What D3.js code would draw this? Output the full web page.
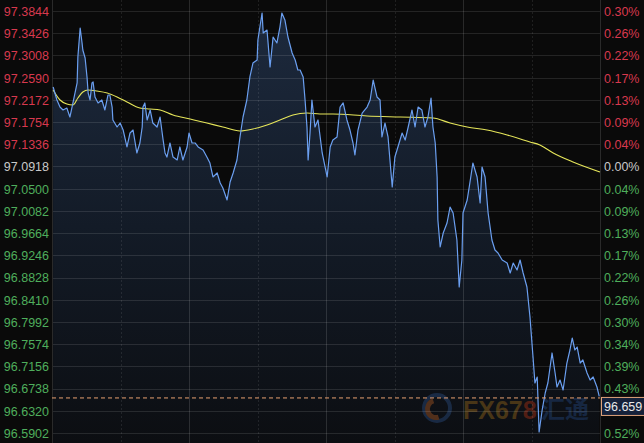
<!DOCTYPE html>
<html><head><meta charset="utf-8">
<script src="https://cdn.jsdelivr.net/npm/d3@7"></script>
<style>html,body{margin:0;padding:0;background:#0a0a0a;overflow:hidden}</style>
</head><body>
<svg id="c" width="644" height="443"></svg>
<script>
// ---- data ----
const basePrice = 97.0918;
const lastPrice = 96.659;
const tickValues = [97.3844,97.3426,97.3008,97.2590,97.2172,97.1754,97.1336,97.0918,97.0500,97.0082,96.9664,96.9246,96.8828,96.8410,96.7992,96.7574,96.7156,96.6738,96.6320,96.5902];
const pctLabels = ["0.30%","0.26%","0.22%","0.17%","0.13%","0.09%","0.04%","0.00%","0.04%","0.09%","0.13%","0.17%","0.22%","0.26%","0.30%","0.34%","0.39%","0.43%","0.48%","0.52%"];
const timeGrid = [180,360,540,720,900,1080,1260];
// minutes since start of window
const priceTimes = [3,13,21,29,39,47,55,66,68,74,79,81,87,92,95,100,105,108,113,121,131,139,147,152,158,160,171,179,187,197,205,213,223,231,237,239,244,250,258,265,276,284,292,297,302,310,318,329,336,344,355,360,368,376,384,397,407,415,423,434,442,449,460,468,476,486,494,502,512,520,528,539,541,552,555,565,573,581,591,599,604,612,620,631,639,646,652,660,665,670,673,678,683,691,699,710,723,731,738,749,757,765,775,783,791,796,804,815,828,836,844,854,862,867,875,883,894,901,909,920,928,936,946,954,962,972,980,988,996,1001,1007,1012,1014,1020,1028,1038,1046,1054,1064,1070,1077,1080,1091,1098,1106,1117,1125,1130,1138,1146,1156,1164,1172,1183,1196,1204,1212,1222,1230,1238,1248,1256,1264,1269,1275,1280,1288,1296,1303,1314,1322,1327,1335,1343,1353,1361,1367,1374,1380,1388,1395,1406,1414,1422,1432,1438];
const priceValues = [97.2414,97.2169,97.2037,97.1981,97.2018,97.1849,97.2113,97.2489,97.2978,97.3524,97.3242,97.3110,97.2960,97.2602,97.2301,97.2169,97.2489,97.2508,97.2226,97.2113,97.2169,97.1981,97.2263,97.2263,97.2037,97.1793,97.1661,97.1736,97.1604,97.1285,97.1548,97.1604,97.1172,97.1360,97.1661,97.2037,97.2113,97.1793,97.1981,97.1736,97.1661,97.1849,97.1416,97.1172,97.1096,97.1360,97.1096,97.1040,97.1285,97.1040,97.1285,97.1548,97.1360,97.1360,97.1285,97.1229,97.1096,97.0983,97.0720,97.0795,97.0607,97.0513,97.0287,97.0626,97.0795,97.1040,97.1473,97.1849,97.2169,97.2602,97.2865,97.2922,97.3298,97.3806,97.3430,97.3486,97.2790,97.3355,97.3242,97.3543,97.3806,97.3675,97.3355,97.3054,97.2922,97.2734,97.2734,97.2602,97.2169,97.1661,97.1040,97.1548,97.2169,97.1661,97.1793,97.1172,97.0720,97.1285,97.1416,97.1473,97.2037,97.2113,97.1793,97.1604,97.1360,97.1134,97.1604,97.1924,97.2037,97.2169,97.2545,97.2226,97.2169,97.1473,97.1736,97.1473,97.0532,97.1096,97.1285,97.1548,97.1416,97.1661,97.1981,97.1661,97.2037,97.1981,97.1661,97.1849,97.2207,97.1661,97.1360,97.0720,96.9911,96.9403,96.9666,96.9854,97.0155,97.0042,96.9534,96.8650,96.9158,97.0042,97.0287,97.0607,97.0983,97.0720,97.0231,97.0908,97.0720,97.0042,96.9534,96.9346,96.9290,96.9158,96.9101,96.8913,96.9101,96.8970,96.9158,96.8913,96.8650,96.8085,96.7332,96.6843,96.6956,96.5921,96.6335,96.6655,96.6843,96.7408,96.7031,96.6768,96.6899,96.6711,96.7219,96.7464,96.7690,96.7464,96.7520,96.7219,96.7276,96.7031,96.6899,96.6956,96.6768,96.6590];
const maTimes = [3,21,39,55,68,81,95,118,145,171,197,231,258,284,318,363,407,449,494,528,565,599,633,670,704,738,828,915,1001,1046,1091,1143,1196,1256,1282,1317,1369,1440];
const maValues = [97.2357,97.2169,97.2094,97.2075,97.2207,97.2320,97.2357,97.2338,97.2301,97.2226,97.2131,97.2018,97.2000,97.1981,97.1887,97.1811,97.1736,97.1661,97.1586,97.1623,97.1699,97.1793,97.1887,97.1924,97.1906,97.1906,97.1868,97.1849,97.1830,97.1736,97.1661,97.1604,97.1510,97.1379,97.1322,97.1172,97.1002,97.0814];

// ---- layout ----
const svg = d3.select("#c");
const W = 644, H = 443;
const L = 52, R = 600, T = 0, B = 443;
const font = "'Liberation Sans', Arial, sans-serif";
const x = d3.scaleLinear().domain([0,1440]).range([L,R]);
const y = d3.scaleLinear().domain([96.5902,97.3844]).range([433,11]);

svg.append("rect").attr("width",W).attr("height",H).attr("fill","#0a0a0a");

const defs = svg.append("defs");
const g1 = defs.append("linearGradient").attr("id","ag").attr("gradientUnits","userSpaceOnUse")
  .attr("x1",0).attr("x2",0).attr("y1",10).attr("y2",443);
g1.append("stop").attr("offset",0).attr("stop-color","#1d2a3e");
g1.append("stop").attr("offset",0.5).attr("stop-color","#131b27");
g1.append("stop").attr("offset",1).attr("stop-color","#0c0e12");

const pts = priceTimes.map((t,i)=>({t, v: priceValues[i]}));
const ma = maTimes.map((t,i)=>({t, v: maValues[i]}));

// area
svg.append("path").datum(pts)
  .attr("d", d3.area().x(d=>x(d.t)).y0(B).y1(d=>y(d.v)))
  .attr("fill","url(#ag)");

// watermark
const wm = svg.append("g").attr("opacity",0.55);
wm.append("circle").attr("cx",437).attr("cy",408).attr("r",13).attr("fill","none").attr("stroke","#24406a").attr("stroke-width",4);
wm.append("path").attr("d", d3.arc()({innerRadius:6,outerRadius:11,startAngle:Math.PI*0.9,endAngle:Math.PI*1.9}))
  .attr("transform","translate(436,409)").attr("fill","#8a4a20");
const wt = wm.append("text").attr("x",463).attr("y",419).attr("font-family",font).attr("font-weight","bold")
  .attr("font-size",25).attr("fill","#7a5518");
wt.append("tspan").text("FX67");
wt.append("tspan").attr("fill","#8a2a14").text("8");
wm.append("text").attr("x",541).attr("y",418).attr("font-family","'Noto Sans CJK SC', sans-serif").attr("font-weight","bold")
  .attr("font-size",24).attr("fill","#1f3a66").text("汇通");

// horizontal grid
svg.append("g").selectAll("line").data(tickValues).join("line")
  .attr("x1",L).attr("x2",R).attr("y1",d=>Math.round(y(d))+0.5).attr("y2",d=>Math.round(y(d))+0.5)
  .attr("stroke","rgba(255,255,255,0.11)").attr("stroke-width",1);
// vertical grid
svg.append("g").selectAll("line").data(timeGrid).join("line")
  .attr("x1",d=>Math.round(x(d))+0.5).attr("x2",d=>Math.round(x(d))+0.5).attr("y1",T).attr("y2",B)
  .attr("stroke",(d,i)=> i%2===0 ? "rgba(255,255,255,0.09)" : "rgba(255,255,255,0.13)")
  .attr("stroke-dasharray",(d,i)=> i%2===0 ? "2,2" : null);
// borders
svg.append("line").attr("x1",L+0.5).attr("x2",L+0.5).attr("y1",0).attr("y2",H).attr("stroke","#2a2a2a");
svg.append("line").attr("x1",R+0.5).attr("x2",R+0.5).attr("y1",0).attr("y2",H).attr("stroke","#2a2a2a");

// MA line
svg.append("path").datum(ma)
  .attr("d", d3.line().x(d=>x(d.t)).y(d=>y(d.v)).curve(d3.curveMonotoneX))
  .attr("fill","none").attr("stroke","#e6e65a").attr("stroke-width",1.1);

// price line
svg.append("path").datum(pts)
  .attr("d", d3.line().x(d=>x(d.t)).y(d=>y(d.v)))
  .attr("fill","none").attr("stroke","#6b9ff0").attr("stroke-width",1.2).attr("stroke-linejoin","round");

// last price dashed line
const ly = y(lastPrice)+1.5;
svg.append("line").attr("x1",L).attr("x2",R).attr("y1",ly).attr("y2",ly)
  .attr("stroke","#e8a070").attr("stroke-width",1).attr("stroke-dasharray","4,3");

const col = v => Math.abs(v-basePrice)<1e-6 ? "#c8c8c8" : (v>basePrice ? "#d8394e" : "#4fae5c");

// left axis
const yAxisL = d3.axisLeft(y).tickValues(tickValues).tickSize(0).tickPadding(3).tickFormat(d3.format(".4f"));
const gl = svg.append("g").attr("transform",`translate(${L},0)`).call(yAxisL);
gl.select(".domain").remove();
gl.selectAll("text").attr("font-family",font).attr("font-size",12.5).attr("fill",d=>col(d)).attr("dy","0.35em");

// right axis (the tick hidden behind the last-price box is not shown)
const rightTicks = tickValues.filter(v => Math.abs(y(v) - (ly+9)) > 10);
const yAxisR = d3.axisRight(y).tickValues(rightTicks).tickSize(0).tickPadding(4)
  .tickFormat(d => pctLabels[tickValues.indexOf(d)]);
const gr = svg.append("g").attr("transform",`translate(${R},0)`).call(yAxisR);
gr.select(".domain").remove();
gr.selectAll("text").attr("font-family",font).attr("font-size",12.5).attr("fill",d=>col(d)).attr("dy","0.35em");

// last price label
svg.append("rect").attr("x",601.5).attr("y",ly-0.5).attr("width",45).attr("height",18)
  .attr("fill","#15213a").attr("stroke","#e0a27a").attr("stroke-width",1);
svg.append("text").attr("x",604).attr("y",ly+13).attr("font-family",font).attr("font-size",12.5)
  .attr("fill","#e8e8e8").text(d3.format(".3f")(lastPrice));
</script>
</body></html>
